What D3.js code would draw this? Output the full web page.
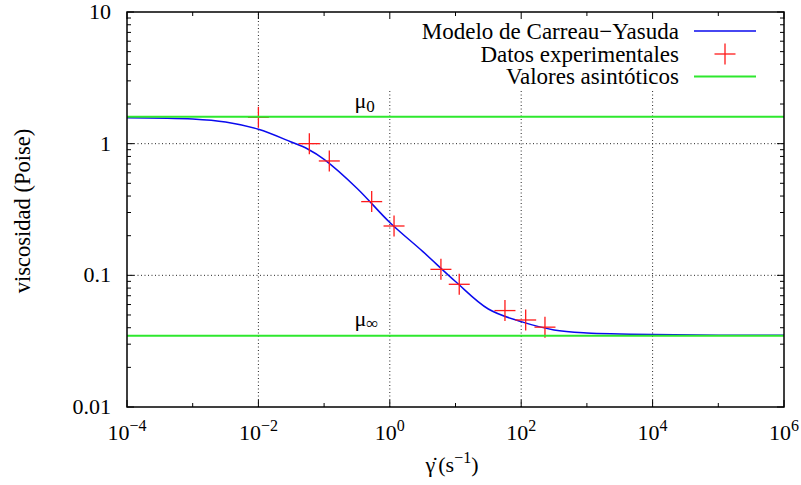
<!DOCTYPE html>
<html>
<head>
<meta charset="utf-8">
<script src="https://cdn.jsdelivr.net/npm/d3@7"></script>
<style>
  body { margin: 0; background: #fff; }
</style>
</head>
<body>
<div id="chart"></div>
<script>
// shear rate (1/s) and viscosity (Poise)
const expX = [0.01, 0.0596, 0.12, 0.53, 1.16, 6.0, 11.4, 56.6, 117, 230];
const expY = [1.585, 1.0, 0.739, 0.363, 0.237, 0.111, 0.0855, 0.054, 0.0458, 0.0404];

// Carreau-Yasuda model curve
const curveX = [1e-4, 1e-3, 3.16e-3, 1e-2, 3.16e-2, 5.62e-2, 0.1, 0.316, 1, 3.16, 10, 31.6, 100, 316, 1000, 3160, 1e4, 1e5, 1e6];
const curveY = [1.575, 1.54, 1.46, 1.286, 1.03, 0.911, 0.76, 0.459, 0.252, 0.152, 0.0897, 0.0555, 0.0445, 0.0385, 0.0365, 0.0359, 0.0355, 0.0351, 0.0350];

// asymptotic values
const mu0 = 1.6;
const muInf = 0.0348;

const xTickExp = [-4, -2, 0, 2, 4, 6];
const yTickVals = [0.01, 0.1, 1, 10];
const yTickLabels = ["0.01", "0.1", "1", "10"];
const legendLabels = ["Modelo de Carreau\u2212Yasuda", "Datos experimentales", "Valores asintóticos"];

const FONT = "'Liberation Serif', 'Times New Roman', Times, 'DejaVu Serif', serif";

const W = 801, H = 485;
const margin = { top: 12, right: 17, bottom: 78, left: 127 };

const svg = d3.select("#chart").append("svg")
  .attr("width", W)
  .attr("height", H)
  .attr("font-family", FONT)
  .style("font-family", FONT);

const x = d3.scaleLog().domain([1e-4, 1e6]).range([margin.left, W - margin.right]);
const y = d3.scaleLog().domain([0.01, 10]).range([H - margin.bottom, margin.top]);

const x0 = x.range()[0], x1 = x.range()[1];
const y0 = y.range()[0], y1 = y.range()[1];

// grid
const grid = svg.append("g")
  .attr("stroke", "#000")
  .attr("stroke-width", 1)
  .attr("stroke-dasharray", "1,2.5")
  .attr("opacity", 0.85);
[1e-2, 1, 1e2, 1e4].forEach(v => {
  grid.append("line")
    .attr("x1", x(v)).attr("x2", x(v))
    .attr("y1", y0).attr("y2", y1);
});
[0.1, 1].forEach(v => {
  grid.append("line")
    .attr("x1", x0).attr("x2", x1)
    .attr("y1", y(v)).attr("y2", y(v));
});

// key background hides the grid
svg.append("rect")
  .attr("x", 380).attr("y", y1 + 1)
  .attr("width", x1 - 380 - 1).attr("height", 76)
  .attr("fill", "#fff");

// ticks on all four sides
const ticks = svg.append("g").attr("stroke", "#000").attr("stroke-width", 1);
d3.range(-4, 7).forEach(e => {
  const v = Math.pow(10, e);
  const len = e % 2 === 0 ? 7 : 4;
  ticks.append("line").attr("x1", x(v)).attr("x2", x(v)).attr("y1", y0).attr("y2", y0 - len);
  ticks.append("line").attr("x1", x(v)).attr("x2", x(v)).attr("y1", y1).attr("y2", y1 + len);
});
y.ticks().forEach(v => {
  const major = yTickVals.some(t => Math.abs(t - v) / t < 1e-6);
  const len = major ? 7 : 4;
  ticks.append("line").attr("x1", x0).attr("x2", x0 + len).attr("y1", y(v)).attr("y2", y(v));
  ticks.append("line").attr("x1", x1).attr("x2", x1 - len).attr("y1", y(v)).attr("y2", y(v));
});

// tick labels
yTickVals.forEach((v, i) => {
  svg.append("text")
    .attr("x", x0 - 16)
    .attr("y", y(v) + 7)
    .attr("text-anchor", "end")
    .attr("font-size", 22)
    .text(yTickLabels[i]);
});
xTickExp.forEach(e => {
  const t = svg.append("text")
    .attr("x", x(Math.pow(10, e)))
    .attr("y", y0 + 33)
    .attr("text-anchor", "middle")
    .attr("font-size", 22);
  t.append("tspan").text("10");
  t.append("tspan")
    .attr("dy", -9)
    .attr("font-size", 16)
    .text(e < 0 ? "\u2212" + (-e) : String(e));
});

// axis labels
const xl = svg.append("text")
  .attr("x", 452)
  .attr("y", 472)
  .attr("text-anchor", "middle")
  .attr("font-size", 22);
xl.append("tspan").text("\u03b3\u0307");
xl.append("tspan").attr("dx", 3).text("(s");
xl.append("tspan").attr("dy", -9).attr("font-size", 16).text("\u22121");
xl.append("tspan").attr("dy", 9).text(")");

svg.append("text")
  .attr("transform", "translate(30,211) rotate(-90)")
  .attr("text-anchor", "middle")
  .attr("font-size", 22.5)
  .text("viscosidad (Poise)");

// model curve
const line = d3.line()
  .x(d => x(d[0]))
  .y(d => y(d[1]))
  .curve(d3.curveCatmullRom.alpha(0.5));
svg.append("path")
  .datum(d3.zip(curveX, curveY))
  .attr("fill", "none")
  .attr("stroke", "#0a0aee")
  .attr("stroke-width", 1.5)
  .attr("d", line);

// experimental points as crosses
const cross = 10.5;
const pts = svg.append("g").attr("stroke", "#ff1a1a").attr("stroke-width", 1.3);
d3.zip(expX, expY).forEach(d => {
  const cx = x(d[0]), cy = y(d[1]);
  pts.append("line").attr("x1", cx - cross).attr("x2", cx + cross).attr("y1", cy).attr("y2", cy);
  pts.append("line").attr("x1", cx).attr("x2", cx).attr("y1", cy - cross).attr("y2", cy + cross);
});

// asymptotes
[mu0, muInf].forEach(v => {
  svg.append("line")
    .attr("x1", x0).attr("x2", x1)
    .attr("y1", y(v)).attr("y2", y(v))
    .attr("stroke", "#2ee82e")
    .attr("stroke-width", 2);
});

// asymptote labels
const labX = x(0.29);
const m0 = svg.append("text").attr("x", labX).attr("y", y(mu0) - 9).attr("font-size", 22);
m0.append("tspan").text("\u03bc");
m0.append("tspan").attr("dy", 4).attr("font-size", 17).text("0");
const mi = svg.append("text").attr("x", labX).attr("y", y(muInf) - 10).attr("font-size", 22);
mi.append("tspan").text("\u03bc");
mi.append("tspan").attr("dy", 3).attr("font-size", 17).text("\u221e");

// legend
const keyTextX = 679, keyX0 = 694, keyX1 = 756;
const keyY = [31, 54, 76.5];
legendLabels.forEach((lab, i) => {
  svg.append("text")
    .attr("x", keyTextX)
    .attr("y", keyY[i] + 7.5)
    .attr("text-anchor", "end")
    .attr("font-size", 23)
    .text(lab);
});
svg.append("line").attr("x1", keyX0).attr("x2", keyX1).attr("y1", keyY[0]).attr("y2", keyY[0])
  .attr("stroke", "#0a0aee").attr("stroke-width", 1.5);
const kc = (keyX0 + keyX1) / 2;
svg.append("line").attr("x1", kc - cross).attr("x2", kc + cross).attr("y1", keyY[1]).attr("y2", keyY[1])
  .attr("stroke", "#ff1a1a").attr("stroke-width", 1.3);
svg.append("line").attr("x1", kc).attr("x2", kc).attr("y1", keyY[1] - cross).attr("y2", keyY[1] + cross)
  .attr("stroke", "#ff1a1a").attr("stroke-width", 1.3);
svg.append("line").attr("x1", keyX0).attr("x2", keyX1).attr("y1", keyY[2]).attr("y2", keyY[2])
  .attr("stroke", "#2ee82e").attr("stroke-width", 2);

// frame
svg.append("rect")
  .attr("x", x0).attr("y", y1)
  .attr("width", x1 - x0).attr("height", y0 - y1)
  .attr("fill", "none")
  .attr("stroke", "#000")
  .attr("stroke-width", 1.5);
</script>
</body>
</html>
